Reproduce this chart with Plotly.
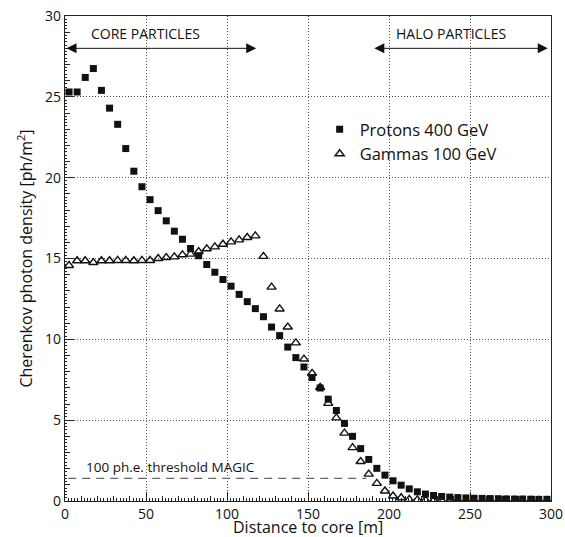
import plotly.graph_objects as go

# ---------------- data ----------------
distance = [2.5 + 5 * i for i in range(60)]

protons_400 = [
    25.3, 25.3, 26.2, 26.75, 25.4, 24.3, 23.3, 21.8, 20.4, 19.44,
    18.64, 17.96, 17.33, 16.69, 16.19, 15.62, 15.17, 14.63, 14.15, 13.7,
    13.29, 12.78, 12.33, 11.9, 11.4, 10.76, 10.23, 9.52, 8.87, 8.29,
    7.64, 6.99, 6.3, 5.6, 4.8, 4.0, 3.24, 2.57, 2.02, 1.6,
    1.25, 0.98, 0.75, 0.57, 0.43, 0.34, 0.28, 0.24, 0.21, 0.19,
    0.17, 0.16, 0.15, 0.14, 0.13, 0.12, 0.12, 0.11, 0.1, 0.1,
]

gammas_100 = [
    14.57, 14.86, 14.86, 14.75, 14.86, 14.86, 14.88, 14.88, 14.86, 14.88,
    14.88, 15.0, 15.06, 15.1, 15.23, 15.27, 15.43, 15.6, 15.72, 15.88,
    16.03, 16.15, 16.3, 16.4, 15.13, 13.23, 11.88, 10.76, 9.78, 8.78,
    7.9, 7.02, 6.04, 5.14, 4.2, 3.3, 2.44, 1.66, 1.09, 0.62,
    0.31, 0.2, 0.1, 0.07, 0.05, 0.03, 0.03, 0.03, 0.03, 0.03,
    0.03, 0.03, 0.03, 0.03, 0.03, 0.03, 0.03, 0.03, 0.03, 0.03,
]

series_names = ["Protons 400 GeV", "Gammas 100 GeV"]

threshold_value = 1.4          # ph/m^2
threshold_x = [2, 186]         # m
threshold_label = "100 ph.e. threshold MAGIC"

core_range = [0, 118]
halo_range = [190, 298]
region_arrow_y = 28.0
region_label_y = 28.9
core_label_x = 49.5
halo_label_x = 238.4
core_label = "CORE PARTICLES"
halo_label = "HALO PARTICLES"

x_title = "Distance to core [m]"
y_title = "Cherenkov photon density [ph/m<sup>2</sup>]"

x_range = [0, 300]
y_range = [0, 30]

FONT = "Open Sans"

fig = go.Figure()

fig.add_trace(go.Scatter(
    x=distance, y=protons_400, mode="markers", name=series_names[0],
    marker=dict(symbol="square", size=7, color="#111111", line=dict(width=0)),
))
fig.add_trace(go.Scatter(
    x=distance, y=gammas_100, mode="markers", name=series_names[1],
    marker=dict(symbol="triangle-up-open", size=8, color="#111111", line=dict(width=1.4)),
))

# threshold dashed line
fig.add_trace(go.Scatter(
    x=threshold_x, y=[threshold_value, threshold_value], mode="lines",
    line=dict(color="#666666", width=1.2, dash="8px,6px"),
    showlegend=False, hoverinfo="skip",
))

# sub-ticks overlay axes
fig.add_trace(go.Scatter(x=[None], y=[None], xaxis="x2", yaxis="y2",
                         showlegend=False, hoverinfo="skip"))

axis_common = dict(
    showline=True, linecolor="#222222", linewidth=1.2, mirror=True,
    ticks="inside", tickcolor="#222222", ticklen=9, tickwidth=1,
    showgrid=True, gridcolor="#555555", griddash="1px,2px", gridwidth=1,
    zeroline=False, tickfont=dict(size=14, family=FONT, color="#111111"),
    automargin=False,
)

fig.update_layout(
    width=565, height=537,
    margin=dict(l=65, r=14, t=16, b=36),
    plot_bgcolor="white", paper_bgcolor="white",
    font=dict(family=FONT, size=14, color="#111111"),
    xaxis=dict(
        range=x_range, tick0=0, dtick=50,
        minor=dict(dtick=10, ticklen=5, ticks="inside", tickcolor="#222222", showgrid=False),
        **axis_common,
    ),
    yaxis=dict(
        range=y_range, tick0=0, dtick=5,
        minor=dict(dtick=1, ticklen=5, ticks="inside", tickcolor="#222222", showgrid=False),
        title=dict(text=y_title, font=dict(size=16), standoff=8),
        **axis_common,
    ),
    xaxis2=dict(range=x_range, overlaying="x", anchor="y", side="bottom",
                ticks="inside", dtick=2, tick0=0, ticklen=3, tickcolor="#222222",
                showticklabels=False, showgrid=False, zeroline=False, showline=False),
    yaxis2=dict(range=y_range, overlaying="y", anchor="x", side="left",
                ticks="inside", dtick=0.2, tick0=0, ticklen=2, tickcolor="#222222",
                showticklabels=False, showgrid=False, zeroline=False, showline=False),
    legend=dict(x=0.524, y=0.802, xanchor="left", yanchor="top",
                bgcolor="rgba(0,0,0,0)", font=dict(size=16.5, family=FONT),
                itemwidth=30, tracegroupgap=0),
    showlegend=True,
)

# x-axis title
fig.add_annotation(x=0.5, y=-(528 - 501.5) / 485.5, xref="paper", yref="paper", text=x_title,
                   showarrow=False, xanchor="center", yanchor="middle", borderpad=0,
                   height=16, valign="middle",
                   font=dict(size=16, family=FONT))

# region arrows (double headed)
for rng in (core_range, halo_range):
    fig.add_annotation(
        x=rng[1], y=region_arrow_y, ax=rng[0], ay=region_arrow_y,
        xref="x", yref="y", axref="x", ayref="y",
        text="", showarrow=True, arrowhead=2, startarrowhead=2,
        arrowside="end+start", arrowsize=2, startarrowsize=2, arrowwidth=1,
        arrowcolor="#111111", standoff=0, startstandoff=0,
    )

fig.add_annotation(x=core_label_x, y=region_label_y, text=core_label,
                   showarrow=False, xref="x", yref="y", yanchor="middle",
                   font=dict(size=14, family=FONT))
fig.add_annotation(x=halo_label_x, y=region_label_y, text=halo_label,
                   showarrow=False, xref="x", yref="y", yanchor="middle",
                   font=dict(size=14, family=FONT))
fig.add_annotation(x=12, y=threshold_value, text=threshold_label,
                   showarrow=False, xref="x", yref="y", xanchor="left", yanchor="bottom",
                   font=dict(size=13.5, family=FONT))

fig.write_html("out.html")
